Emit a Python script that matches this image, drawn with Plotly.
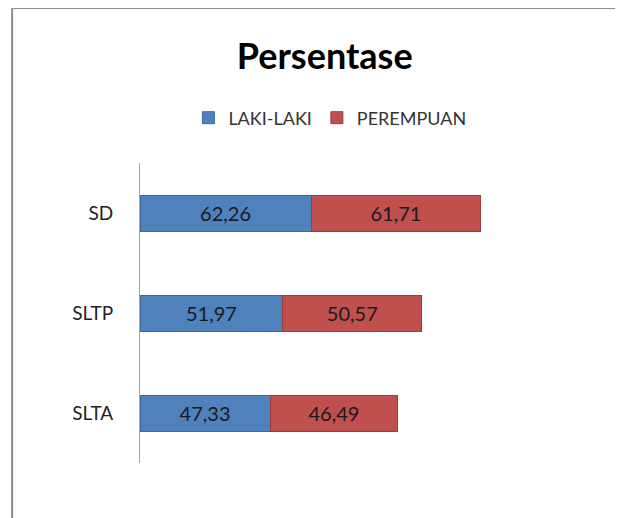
import plotly.graph_objects as go

categories = ["SD", "SLTP", "SLTA"]
laki = [62.26, 51.97, 47.33]
perempuan = [61.71, 50.57, 46.49]
series_names = ["LAKI-LAKI", "PEREMPUAN"]

def fmt(v):
    return f"{v:.2f}".replace(".", ",")

label_font = dict(size=20, color="#1a1a1a", family="Lato")

fig = go.Figure()
fig.add_trace(go.Bar(
    y=categories, x=laki, orientation="h", name=series_names[0],
    marker=dict(color="#4F81BD", line=dict(color="#3F6A9E", width=1)),
    text=[fmt(v) for v in laki], textposition="inside", insidetextanchor="middle",
    textfont=label_font, width=0.36,
))
fig.add_trace(go.Bar(
    y=categories, x=perempuan, orientation="h", name=series_names[1],
    marker=dict(color="#C0504D", line=dict(color="#9B3D3A", width=1)),
    text=[fmt(v) for v in perempuan], textposition="inside", insidetextanchor="middle",
    textfont=label_font, width=0.36,
))

fig.update_layout(
    width=615, height=510,
    barmode="stack",
    paper_bgcolor="white", plot_bgcolor="white",
    margin=dict(l=132, r=13, t=155, b=55),
    font=dict(family="Lato", color="#222"),
    title=dict(text="<b>Persentase</b>", x=0.515, xanchor="center", y=0.905, yanchor="middle",
               font=dict(size=36, color="black", family="Lato")),
    legend=dict(orientation="h", x=0.404, xanchor="center", y=1.15, yanchor="middle",
                font=dict(size=18, color="#333"), itemwidth=30, traceorder="normal"),
    showlegend=True,
    uniformtext=dict(mode="show", minsize=10),
    xaxis=dict(range=[0, 171], visible=False),
    yaxis=dict(autorange="reversed", showgrid=False, showline=True, linecolor="#A6A6A6",
               linewidth=1, ticks="outside", ticklen=22, tickcolor="rgba(0,0,0,0)",
               tickfont=dict(size=19, color="#222")),
    shapes=[dict(type="rect", xref="paper", yref="paper", x0=-0.272, x1=1.2, y0=-0.6, y1=1.517,
                 line=dict(color="#8C8C8C", width=2), fillcolor="rgba(0,0,0,0)", layer="below")],
)

fig.write_html("out.html")
